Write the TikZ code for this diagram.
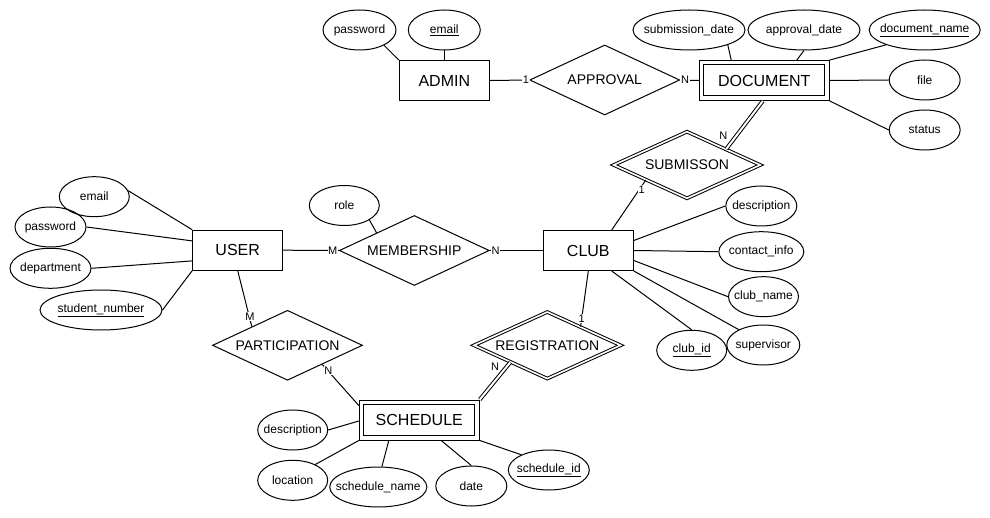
\documentclass[tikz,border=0pt]{standalone}
\usepackage{fontspec}
\setmainfont{Liberation Sans}
\usetikzlibrary{shapes.geometric,calc}
\begin{document}
\begin{tikzpicture}[x=1pt,y=-1pt,line width=1pt,
  ent/.style={draw, rectangle, minimum width=90pt, minimum height=40pt, inner sep=0pt, font=\fontsize{16pt}{18pt}\selectfont},
  rel/.style={draw, diamond, aspect=2.14, minimum width=150pt, minimum height=70pt, inner sep=0pt, font=\fontsize{14pt}{16pt}\selectfont},
  wrel/.style={rel, double, double distance=1.6pt, minimum width=147pt, minimum height=67pt},
  attr/.style={draw, ellipse, minimum height=40pt, inner xsep=-8pt, inner ysep=0pt, font=\fontsize{12pt}{14pt}\selectfont},
  card/.style={inner sep=0.6pt, font=\fontsize{11pt}{12pt}\selectfont},
  cardw/.style={card, fill=white},
  wconn/.style={double, double distance=2pt}]
\fill[white] (0,0) rectangle (990,518);
\useasboundingbox (0,0) rectangle (990,518);

% entities
\node[ent] (admin) at (444.3,80.5) {ADMIN};
\node[ent, minimum width=130pt] (document) at (764.3,80.5) {DOCUMENT};
\node[ent] (user) at (237.7,250.2) {USER};
\node[ent] (club) at (588.3,250.5) {CLUB};
\node[ent, minimum width=120pt] (schedule) at (419.3,420) {SCHEDULE};
\draw ([xshift=5pt,yshift=-5pt]document.north west) rectangle ([xshift=-5pt,yshift=5pt]document.south east);
\draw ([xshift=5pt,yshift=-5pt]schedule.north west) rectangle ([xshift=-5pt,yshift=5pt]schedule.south east);

% relationships
\node[rel] (approval) at (604.7,80) {APPROVAL};
\node[wrel] (submission) at (687,165) {SUBMISSON};
\node[rel] (membership) at (414.3,250.5) {MEMBERSHIP};
\node[rel] (participation) at (287.5,345.3) {PARTICIPATION};
\node[wrel] (registration) at (547.3,345.3) {REGISTRATION};

% attributes
\node[attr, minimum width=73pt] (apw) at (359.5,30) {password};
\node[attr, minimum width=72pt] (aemail) at (444.3,30) {\underline{email}};
\node[attr, minimum width=112pt] (dsub) at (689,30) {submission\_date};
\node[attr, minimum width=112pt] (dappr) at (804,30) {approval\_date};
\node[attr, minimum width=111pt] (dname) at (924.7,30) {\underline{document\_name}};
\node[attr, minimum width=71pt] (dfile) at (924.7,80) {file};
\node[attr, minimum width=71pt] (dstatus) at (924.7,130) {status};

\node[attr, minimum width=70pt] (uemail) at (94.3,196.7) {email};
\node[attr, minimum width=71pt] (upw) at (50.5,227) {password};
\node[attr, minimum width=81pt] (udept) at (50.5,268.3) {department};
\node[attr, minimum width=122pt] (usn) at (101,310) {\underline{student\_number}};
\node[attr, minimum width=70pt] (mrole) at (344.3,205.5) {role};
\node[attr, minimum width=71pt] (cdesc) at (761.3,206) {description};
\node[attr, minimum width=85pt] (ccontact) at (761.3,251.7) {contact\_info};
\node[attr, minimum width=70pt] (cname) at (763.5,296.7) {club\_name};
\node[attr, minimum width=73pt] (csup) at (763.3,345) {supervisor};
\node[attr, minimum width=70pt] (cid) at (691.7,350.3) {\underline{club\_id}};
\node[attr, minimum width=70pt] (sdesc) at (292.7,430) {description};
\node[attr, minimum width=70pt] (sloc) at (292.7,480.3) {location};
\node[attr, minimum width=91pt] (sname) at (378.3,487) {schedule\_name};
\node[attr, minimum width=71pt] (sdate) at (471.3,486) {date};
\node[attr, minimum width=81pt] (sid) at (548.8,470) {\underline{schedule\_id}};

% connectors
\draw (apw.-32) -- (admin.north west);
\draw (aemail.south) -- (admin.north);
\draw (admin.east) -- (approval.west);
\draw (approval.east) -- (document.west);
\draw (dsub.-21) -- ([xshift=32.4pt]document.north west);
\draw (dappr.south) -- ([xshift=98pt]document.north west);
\draw (dname.-159) -- (document.north east);
\draw (document.east) -- (dfile.west);
\draw (document.south east) -- (dstatus.west);
\draw[wconn] ([xshift=64pt]document.south west) -- ($(submission.north)!0.53!(submission.east)$);
\draw ([xshift=23.4pt]club.north) -- ($(submission.west)!0.443!(submission.south)$);
\draw (uemail.10) -- (user.north west);
\draw (upw.east) -- ([yshift=9.3pt]user.west);
\draw (udept.east) -- ([yshift=-10.7pt]user.west);
\draw (usn.east) -- (user.south west);
\draw (user.east) -- (membership.west);
\draw (membership.east) -- (club.west);
\draw (mrole.-30) -- ($(membership.west)!0.5!(membership.north)$);
\draw ([yshift=10pt]club.east) -- (cdesc.west);
\draw (club.east) -- (ccontact.west);
\draw ([yshift=-10pt]club.east) -- (cname.west);
\draw (club.south east) -- (csup.148);
\draw ([xshift=23.4pt]club.south) -- (cid.north);
\draw (user.south) -- ($(participation.west)!0.527!(participation.north)$);
\draw (club.south) -- ($(registration.north)!0.45!(registration.east)$);
\draw ($(participation.east)!0.54!(participation.south)$) -- ([yshift=-6pt]schedule.north west);
\draw[wconn] ($(registration.west)!0.5!(registration.south)$) -- (schedule.north east);
\draw (sdesc.east) -- ([yshift=-1pt]schedule.west);
\draw (sloc.35) -- (schedule.south west);
\draw (sname.80) -- ([xshift=30pt]schedule.south west);
\draw (sdate.north) -- ([xshift=82.4pt]schedule.south west);
\draw (sid.151) -- (schedule.south east);

% cardinalities
\node[cardw] (c1) at (526,80) {1};
\node[cardw] (c2) at (685,80) {N};
\node[card] (c3) at (723.3,136) {N};
\node[cardw] (c4) at (641.7,189.3) {1};
\node[cardw] (c5) at (332.7,250.7) {M};
\node[cardw] (c6) at (495.7,250.7) {N};
\node[cardw] (c7) at (250,316.7) {M};
\node[cardw] (c8) at (328.3,370.7) {N};
\node[cardw] (c9) at (581.7,318.3) {1};
\node[card] (c10) at (495,367) {N};
\end{tikzpicture}
\end{document}
